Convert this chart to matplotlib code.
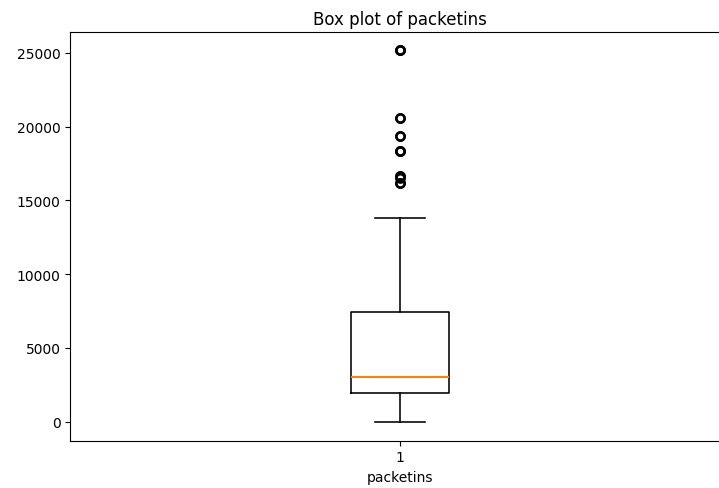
import matplotlib
matplotlib.use("Agg")
import matplotlib.pyplot as plt

# Box statistics
labels = ["1"]
whisker_low = [0]
q1 = [1965]
median = [3030]
q3 = [7410]
whisker_high = [13780]
outliers = [25200, 25200, 25200, 20560, 20560, 19370, 19370, 18320, 18320, 18320,
            16650, 16650, 16500, 16170, 16170]

fig = plt.figure(figsize=(7.19, 4.89), dpi=100)
ax = fig.add_axes([0.0978, 0.0967, 0.917, 0.836])

stats = [dict(label=labels[0], whislo=whisker_low[0], q1=q1[0], med=median[0],
              q3=q3[0], whishi=whisker_high[0], fliers=outliers)]
lw = 1.15
ax.bxp(stats, positions=[1],
       boxprops=dict(linewidth=lw),
       whiskerprops=dict(linewidth=lw),
       capprops=dict(linewidth=lw),
       medianprops=dict(linewidth=1.5, color="C1"),
       flierprops=dict(marker="o", markerfacecolor="none", markeredgecolor="black",
                       markeredgewidth=1.7, markersize=6))
ax.set_xlim(0.5, 1.5)
ax.set_ylim(-1287, 26420)
ax.set_title("Box plot of packetins")
ax.set_xlabel("packetins")

fig.savefig("out.png", dpi=100)
